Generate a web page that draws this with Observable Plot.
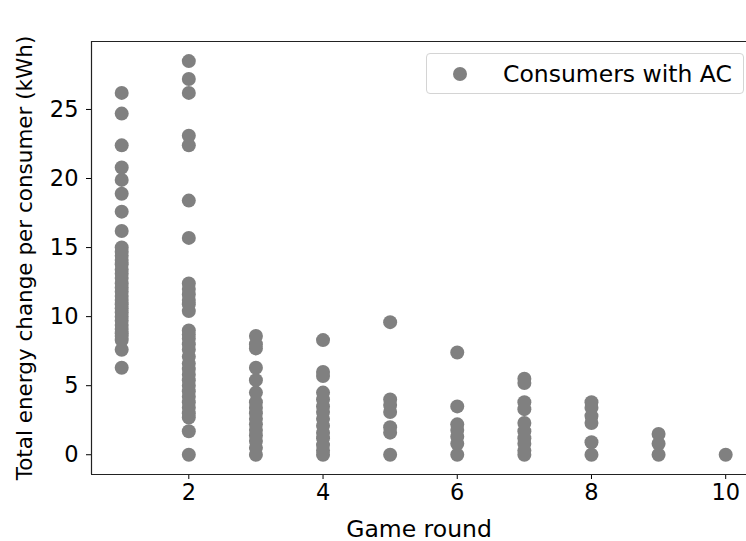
<!DOCTYPE html>
<html>
<head>
<meta charset="utf-8">
<script src="https://cdn.jsdelivr.net/npm/d3@7"></script>
<script src="https://cdn.jsdelivr.net/npm/@observablehq/plot@0.6"></script>
<style>
  html, body { margin: 0; padding: 0; background: #fff; }
  #wrap { position: relative; width: 746px; height: 541px; font-family: "DejaVu Sans", sans-serif; }
  #legend {
    position: absolute; left: 426px; top: 53px; width: 318px; height: 41px;
    border: 1px solid #d4d4d4; border-radius: 4px; background: #fff; box-sizing: border-box;
    display: flex; align-items: center; font-size: 23.5px; color: #000;
  }
  #legend .sw { width: 14px; height: 14px; border-radius: 50%; background: #808080; margin-left: 26px; margin-right: 36px; }
  g[aria-label="y-axis tick label"] text, g[aria-label="x-axis tick label"] text { font-size: 22.5px; }
  g[aria-label="x-axis label"] text { font-size: 23.5px; }
  g[aria-label="y-axis label"] text { font-size: 21.5px; }
</style>
</head>
<body>
<div id="wrap"><div id="legend"><span class="sw"></span><span>Consumers with AC</span></div></div>
<script>
// Total energy change per consumer (kWh), one list per game round
const round1 = [26.2, 24.7, 22.4, 20.8, 19.9, 18.9, 17.6, 16.2, 15.0, 14.7, 14.4, 14.1, 13.8, 13.4, 13.1, 12.8, 12.4, 12.1, 11.8, 11.5, 11.2, 10.9, 10.6, 10.3, 10.0, 9.7, 9.4, 9.1, 8.8, 8.6, 8.3, 7.6, 6.3];
const round2 = [28.5, 27.2, 26.2, 23.1, 22.4, 18.4, 15.7, 12.4, 12.0, 11.6, 11.2, 10.9, 10.4, 9.0, 8.7, 8.4, 8.0, 7.6, 7.1, 6.6, 6.2, 5.8, 5.4, 5.0, 4.6, 4.2, 3.8, 3.4, 3.0, 2.7, 1.7, 0];
const round3 = [8.6, 8.0, 7.7, 6.3, 5.4, 4.5, 3.8, 3.4, 3.0, 2.6, 2.2, 1.8, 1.4, 1.0, 0.5, 0];
const round4 = [8.3, 6.0, 5.7, 4.5, 4.0, 3.5, 3.1, 2.6, 2.1, 1.6, 1.2, 0.7, 0.3, 0];
const round5 = [9.6, 4.0, 3.6, 3.1, 2.0, 1.6, 0];
const round6 = [7.4, 3.5, 2.2, 1.8, 1.3, 0.8, 0];
const round7 = [5.5, 5.2, 3.8, 3.3, 2.3, 1.7, 1.2, 0.8, 0.3, 0];
const round8 = [3.8, 3.4, 2.8, 2.3, 0.9, 0];
const round9 = [1.5, 0.8, 0];
const round10 = [0];

const rounds = [round1, round2, round3, round4, round5, round6, round7, round8, round9, round10];
const xTicks = [2, 4, 6, 8, 10];
const yTicks = [0, 5, 10, 15, 20, 25];

const data = rounds.flatMap((vals, i) => vals.map(v => ({round: i + 1, energy: v})));

const xDomain = [0.55, 10.31];
const yDomain = [-1.43, 29.92];

const chart = Plot.plot({
  width: 746,
  height: 541,
  marginLeft: 91,
  marginRight: 0,
  marginTop: 41,
  marginBottom: 67,
  style: {fontFamily: "DejaVu Sans, sans-serif", fontSize: "20px", color: "#000", background: "transparent"},
  x: {domain: xDomain, ticks: xTicks, tickSize: 5, tickPadding: 5, tickFormat: d3.format("d"),
      label: "Game round", labelAnchor: "center", labelArrow: "none", labelOffset: 62},
  y: {domain: yDomain, ticks: yTicks, tickSize: 5, tickPadding: 8, tickFormat: d3.format("d"),
      label: "Total energy change per consumer (kWh)", labelAnchor: "center", labelArrow: "none", labelOffset: 75},
  marks: [
    Plot.ruleX([xDomain[0]], {stroke: "#222", strokeWidth: 1.2}),
    Plot.ruleY(yDomain, {stroke: "#222", strokeWidth: 1.2}),
    Plot.dot(data, {x: "round", y: "energy", r: 7, fill: "#808080", stroke: "none"})
  ]
});
document.getElementById("wrap").prepend(chart);
</script>
</body>
</html>
